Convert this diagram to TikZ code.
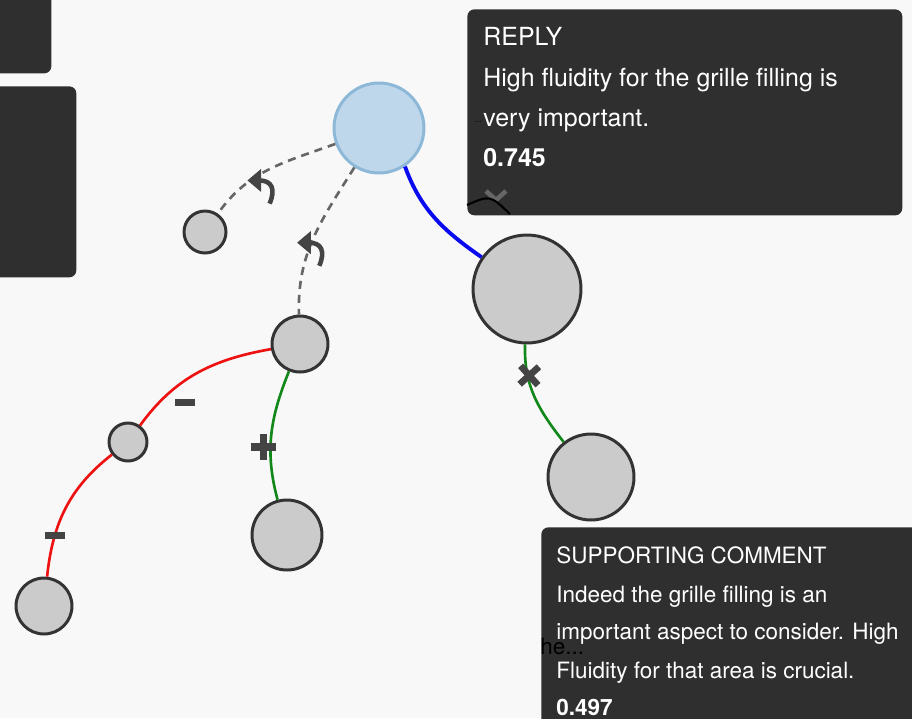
\documentclass[tikz,border=0pt]{standalone}
\usepackage{fontspec}
\setmainfont{TeX Gyre Heros}
\usetikzlibrary{positioning,calc}
\definecolor{bgpage}{HTML}{F8F8F8}
\definecolor{tipdark}{HTML}{2F2F2F}
\definecolor{nodefill}{HTML}{CBCBCB}
\definecolor{nodeink}{HTML}{333333}
\definecolor{rootfill}{HTML}{BFD7EB}
\definecolor{rootink}{HTML}{8DB8D8}
\definecolor{glyphink}{HTML}{444444}
\definecolor{dashink}{HTML}{666666}
\definecolor{suppgreen}{HTML}{12881A}
\definecolor{attackred}{HTML}{EE1111}
\definecolor{replyblue}{HTML}{0A0AEE}
\tikzset{
  argnode/.style ={circle, draw=nodeink, fill=nodefill, line width=1.7pt, inner sep=0pt},
  rootnode/.style={argnode, draw=rootink, fill=rootfill},
  tipbox/.style  ={rounded corners=4pt, fill=tipdark, inner sep=0pt, anchor=north west},
  replytext/.style={text=white, font=\fontsize{14.2}{16}\selectfont, anchor=base west, inner sep=0pt},
  supptext/.style ={replytext, font=\fontsize{12.8}{15}\selectfont},
  undercut/.style={dashed, dash pattern=on 4.6pt off 3.4pt, line width=1.5pt, draw=dashink},
  supports/.style={line width=1.5pt, draw=suppgreen},
  attacks/.style ={line width=1.5pt, draw=attackred},
  answers/.style ={line width=2.2pt, draw=replyblue},
  glyph/.style   ={text=glyphink, inner sep=0pt},
}
\newcommand\replyicon{\tikz[x=1.2pt,y=1.2pt,baseline=0pt]{%
  \draw[glyphink, line width=2.6pt] (2,8) .. controls (8,8) and (10,4) .. (7,-3);
  \fill[glyphink] (-3.5,8) -- (3,13.5) -- (3,2.5) -- cycle;}}
\newcommand\minusbar{\textcolor{glyphink}{\rule{11.3pt}{3.9pt}}}
\newcommand\plussign{\tikz[x=1pt,y=1pt]{%
  \fill[glyphink] (-7,-2.1) rectangle (7,2.1);
  \fill[glyphink] (-2.1,-7.4) rectangle (2.1,7.4);}}
\newcommand\crosssign{\tikz[x=1pt,y=1pt,rotate=42]{%
  \fill[glyphink] (-7.4,-1.9) rectangle (7.4,1.9);
  \fill[glyphink] (-1.9,-7.4) rectangle (1.9,7.4);}}
\begin{document}
\begin{tikzpicture}[x=0.02cm, y=-0.02cm]
  \fill[bgpage] (0,0) rectangle (912,718);
  \useasboundingbox (0,0) rectangle (912,718);

  % side panels on the left
  \node[tipbox, minimum width=1.22cm, minimum height=1.66cm] (panA) at (-10,-10) {};
  \node[tipbox, minimum width=1.72cm, minimum height=3.82cm] (panB) at (-10,86) {};

  % argument nodes
  \node[rootnode, minimum size=1.8cm]  (root) at (379,128) {};
  \node[argnode,  minimum size=0.84cm] (nA)   at (205,232) {};
  \node[argnode,  minimum size=1.12cm] (nB)   at (300,344) {};
  \node[argnode,  minimum size=2.16cm] (nC)   at (527,289) {};
  \node[argnode,  minimum size=0.76cm] (nD)   at (128,442) {};
  \node[argnode,  minimum size=1.4cm]  (nE)   at (287,535) {};
  \node[argnode,  minimum size=1.12cm] (nF)   at (44,606)  {};
  \node[argnode,  minimum size=1.72cm] (nG)   at (591,477) {};

  % connectors
  \draw[undercut] (root) to[out=200, in=55]
    node[glyph, pos=0.62, xshift=4pt, yshift=-6pt] {\replyicon} (nA);
  \draw[undercut] (root) to[out=238, in=92]
    node[glyph, pos=0.55, xshift=1pt, yshift=-3pt] {\replyicon} (nB);
  \draw[answers] (root.-56) to[out=-70, in=145] (nC);
  \draw[attacks] (nB) to[out=190, in=54]
    node[glyph, pos=0.6, xshift=0.6pt, yshift=-12.5pt] {\minusbar} (nD);
  \draw[attacks] (nD) to[out=218, in=84]
    node[glyph, pos=0.72] {\minusbar} (nF);
  \draw[supports] (nB) to[out=248, in=105]
    node[glyph, pos=0.6, xshift=-4pt] {\plussign} (nE);
  \draw[supports] (nC) to[out=268, in=128]
    node[glyph, pos=0.28, xshift=1pt] {\crosssign} (nG);

  % reply tooltip
  \node[tipbox, minimum width=8.7cm, minimum height=4.12cm] (reply) at (467,9) {};
  \node[replytext] (rT) at (483,45)  {REPLY};
  \node[replytext] (r1) at (483,86)  {High fluidity for the grille filling is};
  \node[replytext] (r2) at (483,126) {very important.};
  \node[replytext, font=\fontsize{14.2}{16}\selectfont\bfseries] (r3) at (483,166) {0.745};
  \node[inner sep=0pt, font=\tiny, anchor=base east] (rdots) at (482,122) {...};
  \draw[dashink, line width=2.6pt] (486,191) -- (496,200) -- (506,191);
  \draw[black, line width=1.2pt] (467,205) .. controls (490,195) .. (510,214);

  % supporting comment tooltip
  \node[tipbox, minimum width=7.6cm, minimum height=4cm] (supp) at (541,527) {};
  \node[supptext] (sT) at (556,563) {SUPPORTING COMMENT};
  \node[supptext] (s1) at (556,602) {Indeed the grille filling is an};
  \node[supptext] (s2) at (556,639) {important aspect to consider. High};
  \node[supptext] (s3) at (556,678) {Fluidity for that area is crucial.};
  \node[supptext, font=\fontsize{12.8}{15}\selectfont\bfseries] (s4) at (556,715) {0.497};
  \node[inner sep=0pt, anchor=base west, font=\fontsize{12.8}{14}\selectfont] (ghost) at (540,654) {he...};
\end{tikzpicture}
\end{document}
